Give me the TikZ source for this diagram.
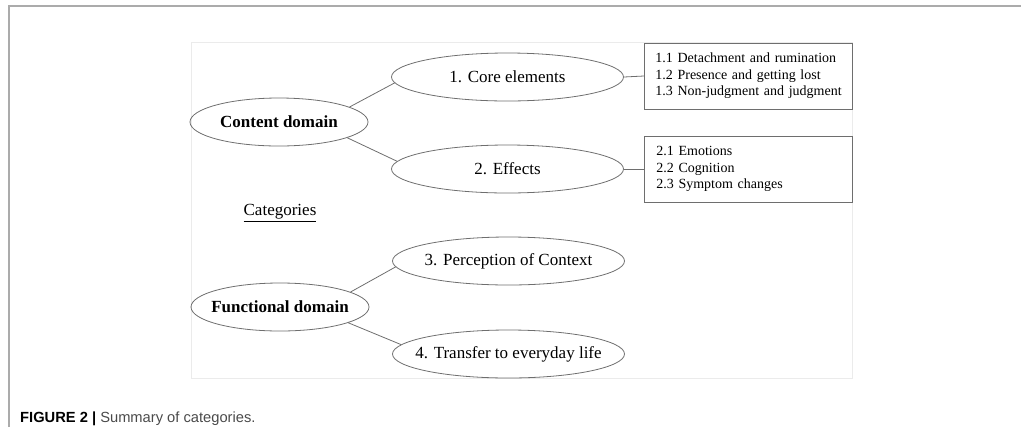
\documentclass[tikz,border=0pt]{standalone}
\usepackage{fontspec}
\setmainfont{Liberation Serif}
\newfontfamily\capfont{Liberation Sans}
\usetikzlibrary{shapes.geometric}
\definecolor{edgec}{HTML}{6E6E6E}
\definecolor{framec}{HTML}{ABABAB}
\definecolor{innerc}{HTML}{EBEBEB}
\definecolor{captext}{HTML}{4A4A4A}
\newcommand\zb[1]{\makebox[0pt]{#1}}
\begin{document}
\begin{tikzpicture}[x=1bp,y=-1bp,
  ell/.style={ellipse, draw=edgec, line width=0.8bp, inner sep=0pt,
    minimum height=48bp, font=\fontsize{17bp}{20bp}\selectfont},
  dom/.style={ell, minimum width=178bp},
  cat/.style={ell, minimum width=232bp},
  listbox/.style={draw=edgec, line width=0.8bp, anchor=west, align=left,
    text width=192bp, inner xsep=8bp, inner ysep=0pt, minimum height=66bp,
    font=\fontsize{14bp}{16.6bp}\selectfont},
  conn/.style={draw=edgec, line width=0.8bp}
]
\useasboundingbox (0,0) rectangle (1021,427);
\draw[framec, line width=1.5bp] (9,427) -- (9,6) -- (1021,6);
\draw[innerc, line width=0.8bp] (191,42) rectangle (852,378);

\node[dom] (cd) at (279,122) {\zb{\textbf{Content domain}}};
\node[cat] (ce) at (507.5,77) {\zb{1. Core elements}};
\node[cat] (ef) at (507.5,169) {\zb{2. Effects}};
\node[dom] (fd) at (280,307) {\zb{\textbf{Functional domain}}};
\node[cat] (pc) at (508.5,261) {\zb{3. Perception of Context}};
\node[cat] (tr) at (508.5,354) {\zb{4. Transfer to everyday life}};

\node[listbox] (b1) at (644,76) {\hspace*{3bp}1.1 Detachment and rumination\\\hspace*{3bp}1.2 Presence and getting lost\\\hspace*{3bp}1.3 Non-judgment and judgment};
\node[listbox] (b2) at (644,169) {\hspace*{4bp}2.1 Emotions\\\hspace*{4bp}2.2 Cognition\\\hspace*{4bp}2.3 Symptom changes};

\node[font=\fontsize{17bp}{20bp}\selectfont] (cats) at (280,213) {\underline{Categories}};

\path[conn] (cd.12) -- (ce.183);
\path[conn] (cd.-13) -- (ef.176);
\path[conn] (fd.12) -- (pc.183);
\path[conn] (fd.-13) -- (tr.175);
\path[conn] (ce.east) -- (b1.west);
\path[conn] (ef.east) -- (b2.west);

\node[anchor=base west, inner sep=0pt, font=\capfont\fontsize{14.7bp}{17bp}\selectfont] (cap) at (20,422)
  {\textbf{FIGURE 2 |} \textcolor{captext}{Summary of categories.}};
\end{tikzpicture}
\end{document}
